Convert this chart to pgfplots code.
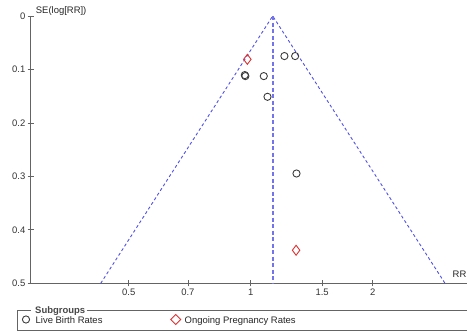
\documentclass[border=0pt]{standalone}
\usepackage{fontspec}
\setmainfont{Liberation Sans}
\usepackage{pgfplots}
\pgfplotsset{compat=1.18}
\definecolor{axgray}{RGB}{100,100,100}
\definecolor{funblue}{RGB}{80,80,230}
\definecolor{diared}{RGB}{220,50,50}
\definecolor{circgray}{RGB}{60,60,60}
\begin{document}
\fontsize{9.5}{11}\selectfont
\begin{tikzpicture}[x=1bp,y=1bp]
\begin{axis}[
  at={(30.7bp,49.7bp)}, anchor=south west,
  scale only axis, width=439.3bp, height=267.3bp,
  xmode=log, xmin=0.2865, xmax=3.476,
  ymin=0, ymax=0.5, y dir=reverse,
  axis x line*=bottom, axis y line*=left,
  axis line style={axgray, line width=1.2bp, -},
  xtick={0.5,0.7,1,1.5,2}, xticklabels={0.5,0.7,1,1.5,2},
  ytick={0,0.1,0.2,0.3,0.4,0.5}, yticklabels={0,0.1,0.2,0.3,0.4,0.5},
  minor tick num=0, minor xtick={},
  tick align=center, major tick length=6bp,
  tick style={axgray, line width=0.8bp},
  tick label style={font=\fontsize{9.5}{11}\selectfont, text=black!80},
  xticklabel style={yshift=1bp},
  yticklabel style={xshift=1bp},
  clip=false,
]
\addplot[funblue, line width=0.9bp, dash pattern=on 3bp off 2.5bp] coordinates {(0.4265,0.5) (1.133,0) (3.016,0.5)};
\addplot[funblue!80, line width=1.8bp, dash pattern=on 4bp off 2.5bp] coordinates {(1.133,0) (1.133,0.5)};
\addplot[only marks, mark=o, mark size=3.6bp, mark options={circgray, line width=0.9bp}] coordinates {
(1.211,0.0749) (1.287,0.0749) (0.967,0.1105) (0.970,0.1124) (1.077,0.1124) (1.100,0.1511) (1.297,0.2946)};
\addplot[only marks, mark=diamond, mark size=5bp, mark options={diared, line width=0.9bp}] coordinates {
(0.981,0.0811) (1.294,0.4382)};
\end{axis}
\node[anchor=base west, inner sep=0pt, text=black!85] at (35.7,333-13.5) {SE(log[RR])};
\node[anchor=base west, inner sep=0pt, text=black!85] at (452.5,333-277.5) {RR};
% legend box
\draw[axgray, line width=0.9bp] (31,333-310) -- (17.7,333-310) -- (17.7,333-330) -- (480,333-330);
\draw[axgray, line width=0.9bp] (86.5,333-310) -- (480,333-310);
\node[anchor=base west, inner sep=0pt, text=axgray!70!black, font=\bfseries\fontsize{9.5}{11}\selectfont] at (35,333-313.5) {Subgroups};
\draw[circgray, line width=0.9bp] (26,333-319.5) circle (3.6);
\node[anchor=base west, inner sep=0pt, text=black!85] at (35.5,333-323) {Live Birth Rates};
\draw[diared, line width=0.9bp] (175.7-5,333-319.5) -- (175.7,333-314.5) -- (175.7+5,333-319.5) -- (175.7,333-324.5) -- cycle;
\node[anchor=base west, inner sep=0pt, text=black!85] at (184.5,333-323) {Ongoing Pregnancy Rates};
\pgfresetboundingbox
\useasboundingbox (0,0) rectangle (467,333);
\end{tikzpicture}
\end{document}
